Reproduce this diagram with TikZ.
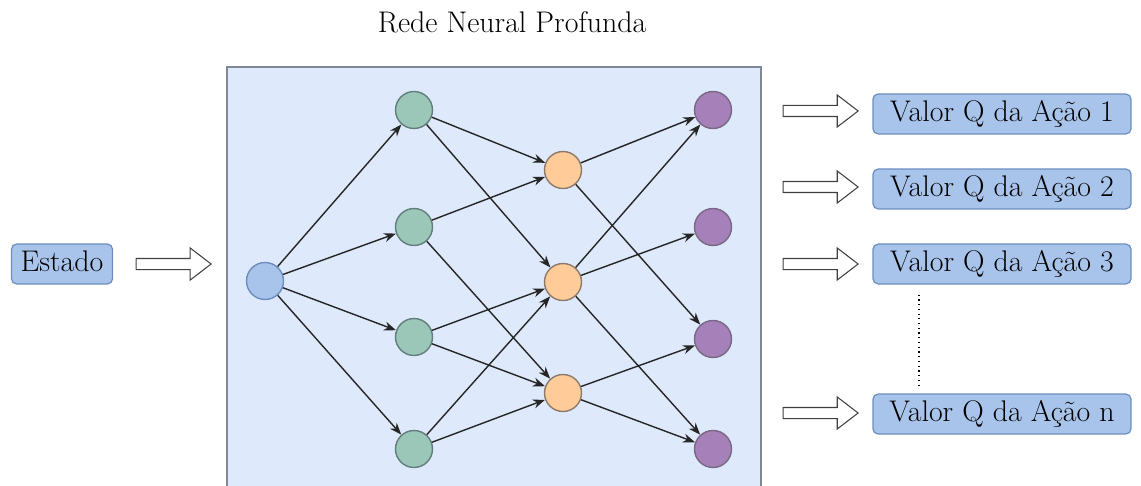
\documentclass[tikz,border=0pt]{standalone}
\usetikzlibrary{arrows.meta,shapes.arrows}

\definecolor{netbg}{RGB}{222,234,251}
\definecolor{netedge}{RGB}{128,136,150}
\definecolor{tagfill}{RGB}{169,196,235}
\definecolor{tagedge}{RGB}{108,142,191}
\definecolor{ingreen}{RGB}{154,199,183}
\definecolor{ingreenedge}{RGB}{98,126,124}
\definecolor{midorange}{RGB}{255,204,153}
\definecolor{midorangeedge}{RGB}{140,122,106}
\definecolor{outpurple}{RGB}{166,128,184}
\definecolor{outpurpleedge}{RGB}{120,104,134}

\tikzset{
  neuron/.style={circle, draw, line width=0.8pt, minimum size=0.74cm, inner sep=0pt},
  inneuron/.style={neuron, fill=tagfill, draw=tagedge},
  hidone/.style={neuron, fill=ingreen, draw=ingreenedge},
  hidtwo/.style={neuron, fill=midorange, draw=midorangeedge},
  outneuron/.style={neuron, fill=outpurple, draw=outpurpleedge},
  link/.style={-{Stealth[length=0.24cm,width=0.18cm]}, line width=0.8pt, black!85},
  tagbox/.style={draw=tagedge, fill=tagfill, rounded corners=0.1cm, line width=0.7pt,
    minimum height=0.74cm, inner xsep=0.1cm, text height=12pt, text depth=4pt,
    font=\fontsize{17}{20}\selectfont},
  fatarrow/.style={single arrow, draw=black!75, fill=white, line width=0.6pt,
    minimum height=1.5cm, inner sep=0.1cm, single arrow head extend=0.21cm,
    single arrow tip angle=75}
}

\begin{document}
\begin{tikzpicture}[x=0.02cm, y=-0.02cm]
\useasboundingbox (0,0) rectangle (1141,486);

% title and network box
\node[anchor=base, font=\fontsize{17}{20}\selectfont] (title) at (512,33) {Rede Neural Profunda};
\fill[netbg] (227,67) rectangle (761,500);
\draw[netedge, line width=0.8pt] (227,500) -- (227,67) -- (761,67) -- (761,500);

% input
\node[tagbox, minimum width=2.02cm] (estado) at (62,264) {Estado};
\node[fatarrow] (ain) at (170,264) {};

% neurons
\node[inneuron] (x) at (265,281) {};

\node[hidone] (g1) at (414,110) {};
\node[hidone] (g2) at (414,227) {};
\node[hidone] (g3) at (414,337) {};
\node[hidone] (g4) at (414,449) {};

\node[hidtwo] (o1) at (563,170) {};
\node[hidtwo] (o2) at (563,282) {};
\node[hidtwo] (o3) at (563,393) {};

\node[outneuron] (p1) at (713,110) {};
\node[outneuron] (p2) at (713,227) {};
\node[outneuron] (p3) at (713,339) {};
\node[outneuron] (p4) at (713,449) {};

% links
\draw[link] (x) -- (g1);
\draw[link] (x) -- (g2);
\draw[link] (x) -- (g3);
\draw[link] (x) -- (g4);

\draw[link] (g1) -- (o1);
\draw[link] (g1) -- (o2);
\draw[link] (g2) -- (o1);
\draw[link] (g2) -- (o3);
\draw[link] (g3) -- (o2);
\draw[link] (g3) -- (o3);
\draw[link] (g4) -- (o2);
\draw[link] (g4) -- (o3);

\draw[link] (o1) -- (p1);
\draw[link] (o1) -- (p3);
\draw[link] (o2) -- (p1);
\draw[link] (o2) -- (p2);
\draw[link] (o2) -- (p4);
\draw[link] (o3) -- (p3);
\draw[link] (o3) -- (p4);

% outputs
\node[fatarrow] (a1) at (817,111) {};
\node[fatarrow] (a2) at (817,187) {};
\node[fatarrow] (a3) at (817,264) {};
\node[fatarrow] (an) at (817,413) {};

\node[tagbox, minimum width=5.16cm] (q1) at (1002,114) {Valor Q da Ação 1};
\node[tagbox, minimum width=5.16cm] (q2) at (1002,189) {Valor Q da Ação 2};
\node[tagbox, minimum width=5.16cm] (q3) at (1002,264) {Valor Q da Ação 3};
\node[tagbox, minimum width=5.16cm] (qn) at (1002,414) {Valor Q da Ação n};

\draw[dotted, line width=0.7pt] ([xshift=-1.66cm, yshift=-0.2cm]q3.south) -- ([xshift=-1.66cm, yshift=0.15cm]qn.north);
\end{tikzpicture}
\end{document}
